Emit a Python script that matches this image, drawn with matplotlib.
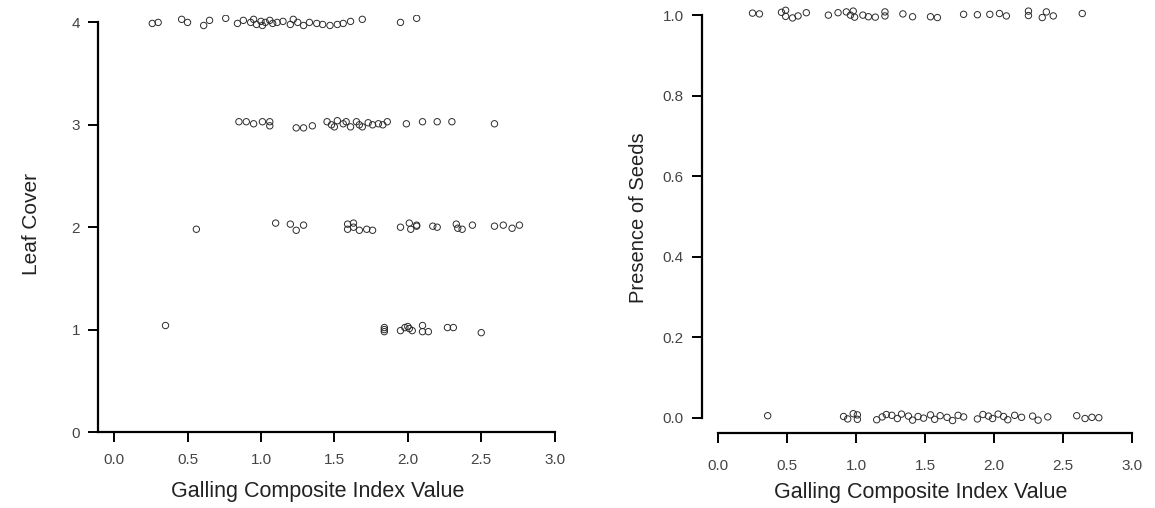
import matplotlib
matplotlib.use("Agg")
import matplotlib.pyplot as plt

# Leaf cover (left panel), one list pair per cover class
LC4_X = [0.26, 0.30, 0.46, 0.50, 0.61, 0.65, 0.76, 0.84, 0.88, 0.93, 0.95, 0.97, 1.00,
         1.01, 1.03, 1.06, 1.08, 1.11, 1.15, 1.20, 1.22, 1.25, 1.29, 1.33, 1.38, 1.42,
         1.47, 1.52, 1.56, 1.61, 1.69, 1.95, 2.06]
LC4_Y = [3.99, 4.00, 4.03, 4.00, 3.97, 4.02, 4.04, 3.99, 4.02, 4.00, 4.03, 3.98, 4.01,
         3.97, 4.00, 4.02, 3.99, 4.00, 4.01, 3.98, 4.03, 4.00, 3.97, 4.00, 3.99, 3.98,
         3.97, 3.98, 3.99, 4.01, 4.03, 4.00, 4.04]

LC3_X = [0.85, 0.90, 0.95, 1.01, 1.06, 1.06, 1.24, 1.29, 1.35, 1.45, 1.48, 1.50, 1.52,
         1.56, 1.58, 1.61, 1.65, 1.67, 1.69, 1.73, 1.76, 1.80, 1.83, 1.86, 1.99, 2.10,
         2.20, 2.30, 2.59]
LC3_Y = [3.03, 3.03, 3.01, 3.03, 3.03, 2.99, 2.97, 2.97, 2.99, 3.03, 3.00, 2.98, 3.04,
         3.01, 3.03, 2.98, 3.03, 3.00, 2.98, 3.02, 3.00, 3.01, 3.00, 3.03, 3.01, 3.03,
         3.03, 3.03, 3.01]

LC2_X = [0.56, 1.10, 1.20, 1.24, 1.29, 1.59, 1.59, 1.63, 1.63, 1.67, 1.72, 1.76, 1.95,
         2.01, 2.02, 2.06, 2.06, 2.17, 2.20, 2.33, 2.34, 2.37, 2.44, 2.59, 2.65, 2.71, 2.76]
LC2_Y = [1.98, 2.04, 2.03, 1.97, 2.02, 2.03, 1.98, 2.04, 2.00, 1.97, 1.98, 1.97, 2.00,
         2.04, 1.98, 2.02, 2.01, 2.01, 2.00, 2.03, 1.99, 1.98, 2.02, 2.01, 2.02, 1.99, 2.02]

LC1_X = [0.35, 1.84, 1.84, 1.84, 1.95, 1.98, 2.00, 2.01, 2.03, 2.10, 2.10, 2.14,
         2.27, 2.31, 2.50]
LC1_Y = [1.04, 1.02, 1.00, 0.98, 0.99, 1.02, 1.03, 1.01, 0.99, 1.04, 0.98, 0.98,
         1.02, 1.02, 0.97]

# Presence of seeds (right panel)
S1_X = [0.25, 0.30, 0.46, 0.49, 0.49, 0.54, 0.58, 0.64, 0.80, 0.87, 0.93, 0.96, 0.98,
        0.99, 1.05, 1.09, 1.14, 1.21, 1.21, 1.34, 1.41, 1.54, 1.59, 1.78, 1.88, 1.97,
        2.04, 2.09, 2.25, 2.25, 2.35, 2.38, 2.43, 2.64]
S1_Y = [1.005, 1.003, 1.007, 0.997, 1.012, 0.993, 0.998, 1.006, 1.000, 1.006, 1.008,
        1.000, 1.010, 0.995, 1.000, 0.996, 0.995, 0.998, 1.008, 1.003, 0.996, 0.996,
        0.994, 1.002, 1.001, 1.002, 1.004, 0.998, 1.010, 0.999, 0.994, 1.008, 0.998, 1.004]

S0_X = [0.36, 0.91, 0.94, 0.98, 1.01, 1.01, 1.15, 1.19, 1.22, 1.26, 1.30, 1.33, 1.38,
        1.41, 1.45, 1.49, 1.54, 1.57, 1.61, 1.66, 1.70, 1.74, 1.78, 1.88, 1.92, 1.96,
        1.99, 2.03, 2.07, 2.10, 2.15, 2.20, 2.28, 2.32, 2.39, 2.60, 2.66, 2.71, 2.76]
S0_Y = [0.005, 0.003, -0.003, 0.010, 0.007, -0.004, -0.005, 0.002, 0.008, 0.006,
        -0.002, 0.009, 0.004, -0.006, 0.003, -0.001, 0.007, -0.004, 0.005, 0.001,
        -0.007, 0.006, 0.002, -0.003, 0.008, 0.004, -0.002, 0.009, 0.003, -0.005,
        0.006, 0.001, 0.004, -0.006, 0.002, 0.005, -0.002, 0.001, 0.000]

XTICKS = [0.0, 0.5, 1.0, 1.5, 2.0, 2.5, 3.0]
XLABEL = "Galling Composite Index Value"

plt.rcParams.update({"font.family": ["Liberation Sans", "DejaVu Sans"]})

PT = dict(s=21, facecolors="none", edgecolors="#2b2b2b", linewidths=0.7, zorder=3)
TICK_COL = "#444444"


def style_axes(ax):
    for side in ("top", "right"):
        ax.spines[side].set_visible(False)
    for side in ("left", "bottom"):
        ax.spines[side].set_linewidth(1.6)
    ax.tick_params(axis="both", direction="out", length=7, width=1.4,
                   labelsize=11, labelcolor=TICK_COL, pad=6)


def panel_leaf(ax):
    for xs, ys in ((LC4_X, LC4_Y), (LC3_X, LC3_Y), (LC2_X, LC2_Y), (LC1_X, LC1_Y)):
        ax.scatter(xs, ys, **PT)
    ax.set_xlim(-0.11, 3.05)
    ax.set_ylim(0, 4.07)
    style_axes(ax)
    ax.tick_params(axis="x", pad=8)
    ax.spines["left"].set_bounds(0, 4)
    ax.spines["bottom"].set_bounds(-0.11, 3.0)
    ax.set_xticks(XTICKS)
    ax.set_xticklabels([f"{v:.1f}" for v in XTICKS])
    ax.set_yticks([0, 1, 2, 3, 4])
    ax.set_xlabel(XLABEL, fontsize=15.5, color="#222222")
    ax.xaxis.set_label_coords(0.474, -0.118)
    ax.set_ylabel("Leaf Cover", fontsize=15, labelpad=22, color="#222222")


def panel_seeds(ax):
    ax.scatter(S1_X, S1_Y, **PT)
    ax.scatter(S0_X, S0_Y, **PT)
    ax.set_xlim(-0.116, 3.05)
    ax.set_ylim(-0.038, 1.03)
    style_axes(ax)
    ax.tick_params(axis="x", pad=12)
    ax.spines["left"].set_bounds(0, 1)
    ax.spines["bottom"].set_bounds(0, 3.0)
    ax.set_xticks(XTICKS)
    ax.set_xticklabels([f"{v:.1f}" for v in XTICKS])
    ax.set_yticks([0.0, 0.2, 0.4, 0.6, 0.8, 1.0])
    ax.set_yticklabels([f"{v:.1f}" for v in [0.0, 0.2, 0.4, 0.6, 0.8, 1.0]])
    ax.set_xlabel(XLABEL, fontsize=15.5, labelpad=6, color="#222222")
    ax.set_ylabel("Presence of Seeds", fontsize=14.5, labelpad=11, color="#222222")


fig = plt.figure(figsize=(11.55, 5.08), dpi=100)
axL = fig.add_axes([0.0848, 0.1496, 0.4018, 0.8204])
axR = fig.add_axes([0.6078, 0.1476, 0.3782, 0.8464])
panel_leaf(axL)
panel_seeds(axR)
fig.savefig("out.png", dpi=100)
